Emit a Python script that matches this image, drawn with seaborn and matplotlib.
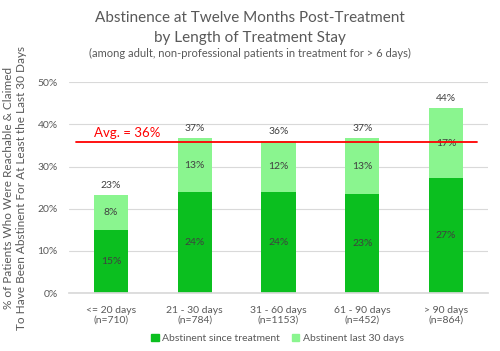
import matplotlib
matplotlib.use("Agg")
import matplotlib.pyplot as plt
import seaborn as sns
import pandas as pd
from matplotlib.patches import Patch

categories = ["<= 20 days\n(n=710)", "21 - 30 days\n(n=784)", "31 - 60 days\n(n=1153)",
              "61 - 90 days\n(n=452)", "> 90 days\n(n=864)"]
since_treatment = [14.9, 24.0, 24.0, 23.4, 27.2]
last_30_days = [8.3, 12.7, 12.0, 13.3, 16.6]
since_labels = ["15%", "24%", "24%", "23%", "27%"]
last30_labels = ["8%", "13%", "12%", "13%", "17%"]
total_labels = ["23%", "37%", "36%", "37%", "44%"]
avg_value = 35.8
avg_label = "Avg. = 36%"
yticks = [0, 10, 20, 30, 40, 50]

sns.set_theme(style="white")
plt.rcParams['font.family'] = ['Lato', 'DejaVu Sans']

DARK = "#0BBF1F"
LIGHT = "#8AF58F"
TXT = "#595959"

totals = [a + b for a, b in zip(since_treatment, last_30_days)]
df = pd.DataFrame({"cat": categories, "since": since_treatment, "last": last_30_days, "total": totals})

fig = plt.figure(figsize=(5.0, 3.51), dpi=100)
ax = fig.add_axes([0.138, 0.165, 0.838, 0.601])

sns.barplot(data=df, x="cat", y="total", color=LIGHT, width=0.41, ax=ax, saturation=1, linewidth=0)
sns.barplot(data=df, x="cat", y="since", color=DARK, width=0.41, ax=ax, saturation=1, linewidth=0)

ax.set_ylim(0, 50)
ax.set_xlim(-0.5, 4.5)
ax.set_yticks(yticks)
ax.set_yticklabels([f"{t}%" for t in yticks], fontsize=7.5, color=TXT)
ax.tick_params(axis='x', labelsize=7.5, labelcolor=TXT, length=0, pad=9)
ax.tick_params(axis='y', length=0, pad=8)
ax.yaxis.grid(True, color="#D9D9D9", linewidth=0.8)
ax.set_axisbelow(True)
for s in ["left", "right", "top"]:
    ax.spines[s].set_visible(False)
ax.spines["bottom"].set_color("#D9D9D9")
ax.set_xlabel("")
ax.set_ylabel("% of Patients Who Were Reachable & Claimed\nTo Have Been Abstinent For At Least the Last 30 Days",
              fontsize=8.5, color=TXT, labelpad=8)

for i in range(len(categories)):
    ax.text(i, since_treatment[i] / 2, since_labels[i], ha="center", va="center", fontsize=7.5, color="#404040")
    ax.text(i, since_treatment[i] + last_30_days[i] / 2, last30_labels[i], ha="center", va="center", fontsize=7.5, color="#404040")
    ax.text(i, totals[i] + 1.2, total_labels[i], ha="center", va="bottom", fontsize=7.5, color="#404040")

ax.plot([-0.42, 4.37], [avg_value, avg_value], color="#FF0000", linewidth=1.3, zorder=5)
ax.text(-0.2, avg_value + 0.8, avg_label, color="#FF0000", fontsize=9.5, ha="left", va="bottom")

fig.text(0.5, 0.950, "Abstinence at Twelve Months Post-Treatment", ha="center", va="center", fontsize=11, color=TXT)
fig.text(0.5, 0.892, "by Length of Treatment Stay", ha="center", va="center", fontsize=11, color=TXT)
fig.text(0.5, 0.847, "(among adult, non-professional patients in treatment for > 6 days)", ha="center", va="center", fontsize=8, color=TXT)

handles = [Patch(color=DARK, label="Abstinent since treatment"), Patch(color=LIGHT, label="Abstinent last 30 days")]
fig.legend(handles=handles, loc="center", bbox_to_anchor=(0.555, 0.035), ncol=2, frameon=False,
           fontsize=7.5, handlelength=0.7, handleheight=0.7, handletextpad=0.3, columnspacing=1.2,
           labelcolor=TXT)

fig.savefig("out.png", dpi=100)
